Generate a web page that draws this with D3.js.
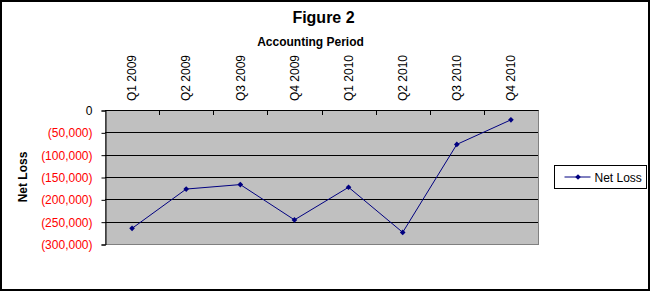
<!DOCTYPE html>
<html lang="en">
<head>
  <meta charset="UTF-8">
  <title>Figure 2</title>
  <script src="https://d3js.org/d3.v7.min.js"></script>
  <style>
    body { margin: 0; background: #fff; font-family: Arial, "Liberation Sans", sans-serif; }
    svg { display: block; }
  </style>
</head>
<body>
<div id="chart"></div>
<script>
// chart data
var periods = ["Q1 2009", "Q2 2009", "Q3 2009", "Q4 2009", "Q1 2010", "Q2 2010", "Q3 2010", "Q4 2010"];
var netLoss = [-265000, -177000, -167000, -246000, -173000, -274000, -77000, -22000];
var yTicks = [0, -50000, -100000, -150000, -200000, -250000, -300000];

var width = 650, height = 292;
var plot = { left: 105, right: 538, top: 110, bottom: 244 };

var svg = d3.select("#chart").append("svg")
  .attr("width", width)
  .attr("height", height);

// outer border
svg.append("rect")
  .attr("x", 1).attr("y", 1)
  .attr("width", 648).attr("height", 289)
  .attr("fill", "white")
  .attr("stroke", "black")
  .attr("stroke-width", 2);

// scales
var x = d3.scaleBand()
  .domain(periods)
  .range([plot.left, plot.right]);

var y = d3.scaleLinear()
  .domain([-300000, 0])
  .range([plot.bottom, plot.top]);

// plot area background
svg.append("rect")
  .attr("x", plot.left + 0.5)
  .attr("y", plot.top + 0.5)
  .attr("width", plot.right - plot.left)
  .attr("height", plot.bottom - plot.top)
  .attr("fill", "#c0c0c0")
  .attr("stroke", "#808080")
  .attr("stroke-width", 1);

// horizontal gridlines
svg.append("g")
  .selectAll("line")
  .data(yTicks.filter(function(d){ return d !== 0 && d !== -300000; }))
  .enter().append("line")
    .attr("x1", plot.left)
    .attr("x2", plot.right)
    .attr("y1", function(d){ return Math.round(y(d)) + 0.5; })
    .attr("y2", function(d){ return Math.round(y(d)) + 0.5; })
    .attr("stroke", "black")
    .attr("stroke-width", 1);

// y axis (left), negatives in red with parentheses
var fmt = d3.format(",");
var yAxis = d3.axisLeft(y)
  .tickValues(yTicks)
  .tickSize(4)
  .tickPadding(9)
  .tickFormat(function(d){ return d < 0 ? "(" + fmt(-d) + ")" : "0"; });

var gy = svg.append("g")
  .attr("transform", "translate(" + (plot.left + 0.5) + ",0.5)")
  .call(yAxis);
gy.select(".domain").attr("stroke", "black");
gy.selectAll(".tick line").attr("stroke", "black");
gy.selectAll("text")
  .attr("font-family", "Arial, 'Liberation Sans', sans-serif")
  .attr("font-size", "12px")
  .attr("fill", function(d){ return d < 0 ? "#ff0000" : "black"; });

// category axis along the top (at 0)
svg.append("line")
  .attr("x1", plot.left)
  .attr("x2", plot.right + 0.5)
  .attr("y1", y(0) + 0.5)
  .attr("y2", y(0) + 0.5)
  .attr("stroke", "black");

svg.append("g")
  .selectAll("line")
  .data(periods.slice(1))
  .enter().append("line")
    .attr("x1", function(d){ return Math.round(x(d)) + 0.5; })
    .attr("x2", function(d){ return Math.round(x(d)) + 0.5; })
    .attr("y1", y(0))
    .attr("y2", y(0) + 5)
    .attr("stroke", "black");

svg.append("g")
  .selectAll("text")
  .data(periods)
  .enter().append("text")
    .attr("transform", function(d){
      return "translate(" + (x(d) + x.bandwidth() / 2) + "," + (y(0) - 9) + ") rotate(-90)";
    })
    .attr("dy", "0.35em")
    .attr("text-anchor", "start")
    .attr("font-size", "12px")
    .attr("fill", "black")
    .text(function(d){ return d; });

// series line
var line = d3.line()
  .x(function(d, i){ return x(periods[i]) + x.bandwidth() / 2; })
  .y(function(d){ return y(d); });

svg.append("path")
  .datum(netLoss)
  .attr("d", line)
  .attr("fill", "none")
  .attr("stroke", "#000080")
  .attr("stroke-width", 1);

// square marker turned 45 degrees (Excel diamond)
var diamond = d3.symbol().type(d3.symbolSquare).size(16);

svg.append("g")
  .selectAll("path")
  .data(netLoss)
  .enter().append("path")
    .attr("d", diamond)
    .attr("transform", function(d, i){
      return "translate(" + (x(periods[i]) + x.bandwidth() / 2) + "," + y(d) + ") rotate(45)";
    })
    .attr("fill", "#000080");

// titles
svg.append("text")
  .attr("x", 323.5).attr("y", 23)
  .attr("text-anchor", "middle")
  .attr("font-size", "16px")
  .attr("font-weight", "bold")
  .text("Figure 2");

svg.append("text")
  .attr("x", 310.5).attr("y", 45.5)
  .attr("text-anchor", "middle")
  .attr("font-size", "12px")
  .attr("font-weight", "bold")
  .text("Accounting Period");

svg.append("text")
  .attr("transform", "translate(27," + ((plot.top + plot.bottom) / 2) + ") rotate(-90)")
  .attr("text-anchor", "middle")
  .attr("font-size", "12px")
  .attr("font-weight", "bold")
  .text("Net Loss");

// legend
var legend = svg.append("g").attr("transform", "translate(554.5,165.5)");
legend.append("rect")
  .attr("width", 92).attr("height", 23)
  .attr("fill", "white")
  .attr("stroke", "black");
legend.append("line")
  .attr("x1", 10).attr("x2", 36)
  .attr("y1", 11.5).attr("y2", 11.5)
  .attr("stroke", "#000080");
legend.append("path")
  .attr("d", diamond)
  .attr("transform", "translate(23.5,11.5) rotate(45)")
  .attr("fill", "#000080");
legend.append("text")
  .attr("x", 40).attr("y", 16)
  .attr("font-size", "12px")
  .text("Net Loss");
</script>
</body>
</html>
